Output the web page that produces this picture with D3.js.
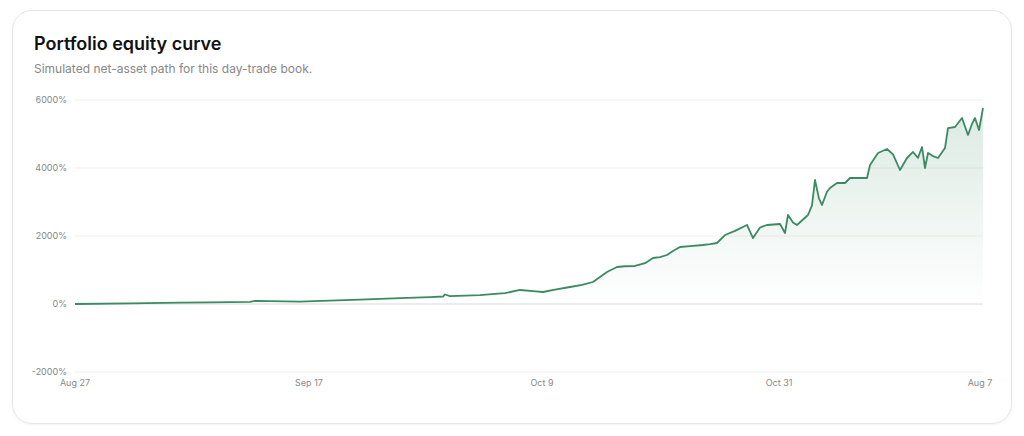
<!DOCTYPE html>
<html>
<head>
<meta charset="utf-8">
<script src="https://cdn.jsdelivr.net/npm/d3@7"></script>
<style>
  body { margin: 0; background: #fff; font-family: Inter, "Noto Sans", sans-serif; }
  .card { position: absolute; left: 12px; top: 10px; width: 998px; height: 412px;
          border: 1px solid #e6e6e6; border-radius: 20px; box-shadow: 0 1px 3px rgba(0,0,0,0.05); }
  h3 { position: absolute; left: 21px; top: 22px; margin: 0; font-size: 18px; font-weight: 600; color: #111; }
  p { position: absolute; left: 21px; top: 50px; margin: 0; font-size: 12px; color: #888; }
  svg { position: absolute; left: 0; top: 0; }
</style>
</head>
<body>
<div class="card">
  <h3>Portfolio equity curve</h3>
  <p>Simulated net-asset path for this day-trade book.</p>
</div>
<svg id="chart" width="1024" height="436"></svg>
<script>
// session index along the book, and equity in percent (same order, 10 per row)
var sessions = [
  0, 55, 105, 135, 175, 180, 225, 255, 285, 325,
  355, 368, 370, 375, 405, 420, 430, 445, 458, 468,
  480, 495, 507, 518, 532, 542, 550, 560, 570, 578,
  585, 592, 598, 605, 615, 628, 635, 642, 650, 660,
  672, 678, 685, 692, 705, 710, 713, 718, 722, 733,
  737, 740, 744, 747, 752, 755, 762, 770, 775, 792,
  795, 803, 812, 818, 825, 832, 838, 843, 847, 850,
  853, 858, 863, 870, 873, 880, 887, 893, 897, 900,
  904, 908];
var equity = [
  0, 20, 40, 50, 60, 90, 70, 100, 130, 170,
  200, 220, 280, 230, 260, 300, 320, 412, 380, 353,
  420, 500, 560, 647, 941, 1088, 1110, 1118, 1200, 1353,
  1380, 1441, 1560, 1676, 1700, 1735, 1760, 1794, 2029, 2150,
  2324, 1941, 2250, 2324, 2353, 2088, 2618, 2400, 2324, 2618,
  2900, 3647, 3100, 2912, 3300, 3412, 3559, 3559, 3706, 3706,
  4088, 4441, 4559, 4400, 3941, 4294, 4471, 4300, 4618, 4000,
  4441, 4350, 4294, 4588, 5176, 5206, 5471, 4971, 5300, 5471,
  5118, 5765];
var tickSessions = [0, 234, 467, 704, 905];
var tickLabels = ["Aug 27", "Sep 17", "Oct 9", "Oct 31", "Aug 7"];
var yTicks = [-2000, 0, 2000, 4000, 6000];

var data = sessions.map((s, i) => ({ s: s, v: equity[i] }));

var svg = d3.select("#chart");
var x = d3.scaleLinear().domain([0, 908]).range([75, 983]);
var y = d3.scaleLinear().domain([-2000, 6000]).range([372, 100]);

var grad = svg.append("defs").append("linearGradient")
  .attr("id", "fill").attr("x1", 0).attr("y1", 0).attr("x2", 0).attr("y2", 1);
grad.append("stop").attr("offset", "0%").attr("stop-color", "#3b8a63").attr("stop-opacity", 0.18);
grad.append("stop").attr("offset", "100%").attr("stop-color", "#3b8a63").attr("stop-opacity", 0);

// grid
svg.append("g").selectAll("line").data(yTicks).join("line")
  .attr("x1", 75).attr("x2", 983)
  .attr("y1", d => y(d)).attr("y2", d => y(d))
  .attr("stroke", d => d === 0 ? "#d8d8d8" : "#efefef");

svg.append("g").selectAll("text").data(yTicks).join("text")
  .attr("x", 67).attr("y", d => y(d) + 3)
  .attr("text-anchor", "end").attr("font-size", 9).attr("fill", "#888")
  .text(d => d + "%");

svg.append("g").selectAll("text").data(tickSessions).join("text")
  .attr("x", d => x(d)).attr("y", 386)
  .attr("text-anchor", "middle").attr("font-size", 9).attr("fill", "#888")
  .text((d, i) => tickLabels[i]);

svg.append("path").datum(data)
  .attr("fill", "url(#fill)")
  .attr("d", d3.area().x(d => x(d.s)).y0(y(0)).y1(d => y(d.v)));

svg.append("path").datum(data)
  .attr("fill", "none").attr("stroke", "#3b8a63").attr("stroke-width", 1.8)
  .attr("stroke-linejoin", "round")
  .attr("d", d3.line().x(d => x(d.s)).y(d => y(d.v)));
</script>
</body>
</html>
